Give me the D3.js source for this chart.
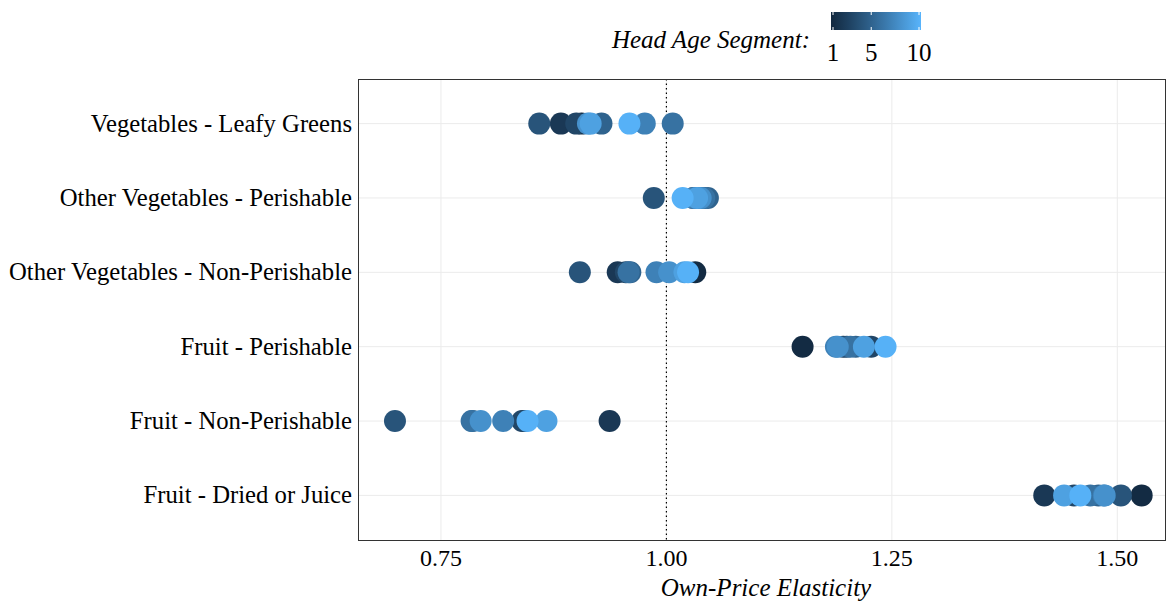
<!DOCTYPE html>
<html>
<head>
<meta charset="utf-8">
<script src="https://cdn.jsdelivr.net/npm/d3@7"></script>
<style>
  body { margin: 0; background: #fff; }
  text { font-family: "Liberation Serif", "Times New Roman", serif; fill: #000; }
</style>
</head>
<body>
<svg id="chart" width="1167" height="602"></svg>
<script>
// categories, top to bottom
const categories = [
  "Vegetables - Leafy Greens",
  "Other Vegetables - Perishable",
  "Other Vegetables - Non-Perishable",
  "Fruit - Perishable",
  "Fruit - Non-Perishable",
  "Fruit - Dried or Juice"
];

// head age segments 1..10
const segments = [1, 2, 3, 4, 5, 6, 7, 8, 9, 10];

// own-price elasticity per category, one value per segment
const leafyGreens   = [0.906, 0.883, 0.900, 0.859, 0.928, 1.007, 0.976, 0.913, 0.916, 0.959];
const otherVegPer   = [1.030, 1.035, 1.040, 0.986, 1.046, 1.042, 1.030, 1.038, 1.034, 1.018];
const otherVegNon   = [1.032, 0.946, 0.955, 0.904, 0.960, 0.958, 0.989, 1.003, 1.020, 1.024];
const fruitPer      = [1.151, 1.196, 1.227, 1.200, 1.210, 1.204, 1.188, 1.190, 1.219, 1.243];
const fruitNon      = [0.842, 0.937, 0.840, 0.699, 0.785, 0.784, 0.819, 0.794, 0.867, 0.846];
const fruitDried    = [1.527, 1.419, 1.452, 1.504, 1.479, 1.470, 1.485, 1.486, 1.441, 1.459];

const seriesValues = [leafyGreens, otherVegPer, otherVegNon, fruitPer, fruitNon, fruitDried];

const xTicks = [0.75, 1.00, 1.25, 1.50];
const legendTicks = [1, 5, 10];

// flatten into rows of points
let points = [];
categories.forEach((cat, i) => {
    seriesValues[i].forEach((v, j) => {
        points.push({ category: cat, segment: segments[j], value: v });
    });
});
// draw in segment order like ggplot draws rows
points.sort((a, b) => a.segment - b.segment);

const svg = d3.select("#chart");
const panel = { left: 358, right: 1166, top: 79, bottom: 540 };

let x = d3.scaleLinear().domain([0.658, 1.554]).range([panel.left, panel.right]);
let y = d3.scalePoint().domain(categories).range([panel.top, panel.bottom]).padding(0.6);
let color = d3.scaleLinear().domain([1, 10])
    .range(["#132B43", "#56B1F7"]).interpolate(d3.interpolateLab);

// gridlines
svg.append("g").selectAll("line").data(xTicks).join("line")
    .attr("x1", d => x(d)).attr("x2", d => x(d))
    .attr("y1", panel.top).attr("y2", panel.bottom)
    .attr("stroke", "#ebebeb").attr("stroke-width", 1);
svg.append("g").selectAll("line").data(categories).join("line")
    .attr("x1", panel.left).attr("x2", panel.right)
    .attr("y1", d => y(d)).attr("y2", d => y(d))
    .attr("stroke", "#ebebeb").attr("stroke-width", 1);

// reference line at 1
svg.append("line")
    .attr("x1", x(1)).attr("x2", x(1))
    .attr("y1", panel.top).attr("y2", panel.bottom)
    .attr("stroke", "#000").attr("stroke-width", 1.2)
    .attr("stroke-dasharray", "1.5,3");

// points
svg.append("g").selectAll("circle").data(points).join("circle")
    .attr("cx", d => x(d.value))
    .attr("cy", d => y(d.category))
    .attr("r", 11)
    .attr("fill", d => color(d.segment));

// panel border
svg.append("rect")
    .attr("x", panel.left + 0.5).attr("y", panel.top + 0.5)
    .attr("width", panel.right - panel.left - 1).attr("height", panel.bottom - panel.top)
    .attr("fill", "none").attr("stroke", "#333").attr("stroke-width", 1);

// x axis labels
svg.append("g").selectAll("text").data(xTicks).join("text")
    .attr("x", d => x(d)).attr("y", 566)
    .attr("text-anchor", "middle")
    .style("font-size", "24px")
    .text(d => d3.format(".2f")(d));

svg.append("text")
    .attr("x", (panel.left + panel.right) / 2 + 4).attr("y", 596)
    .attr("text-anchor", "middle")
    .style("font-size", "25px").style("font-style", "italic")
    .text("Own-Price Elasticity");

// y axis labels
svg.append("g").selectAll("text").data(categories).join("text")
    .attr("x", 352).attr("y", d => y(d) + 8)
    .attr("text-anchor", "end")
    .style("font-size", "24.7px")
    .text(d => d);

// legend
svg.append("text")
    .attr("x", 810).attr("y", 48)
    .attr("text-anchor", "end")
    .style("font-size", "25px").style("font-style", "italic")
    .text("Head Age Segment:");

let lx = d3.scaleLinear().domain([1, 10]).range([833, 919]);
let grad = svg.append("defs").append("linearGradient").attr("id", "leg");
d3.range(0, 1.0001, 0.1).forEach(t => {
    grad.append("stop").attr("offset", t)
        .attr("stop-color", color(lx.invert(831 + t * 90)));
});
svg.append("rect")
    .attr("x", 831).attr("y", 12).attr("width", 90).attr("height", 18)
    .attr("fill", "url(#leg)");
svg.append("g").selectAll("line").data(legendTicks).join("line")
    .attr("x1", d => lx(d)).attr("x2", d => lx(d))
    .attr("y1", 12).attr("y2", 15)
    .attr("stroke", "#fff").attr("stroke-width", 1);
svg.append("g").selectAll("line").data(legendTicks).join("line")
    .attr("x1", d => lx(d)).attr("x2", d => lx(d))
    .attr("y1", 27).attr("y2", 30)
    .attr("stroke", "#fff").attr("stroke-width", 1);
svg.append("g").selectAll("text").data(legendTicks).join("text")
    .attr("x", d => lx(d)).attr("y", 61)
    .attr("text-anchor", "middle")
    .style("font-size", "25px")
    .text(d => d);
</script>
</body>
</html>
